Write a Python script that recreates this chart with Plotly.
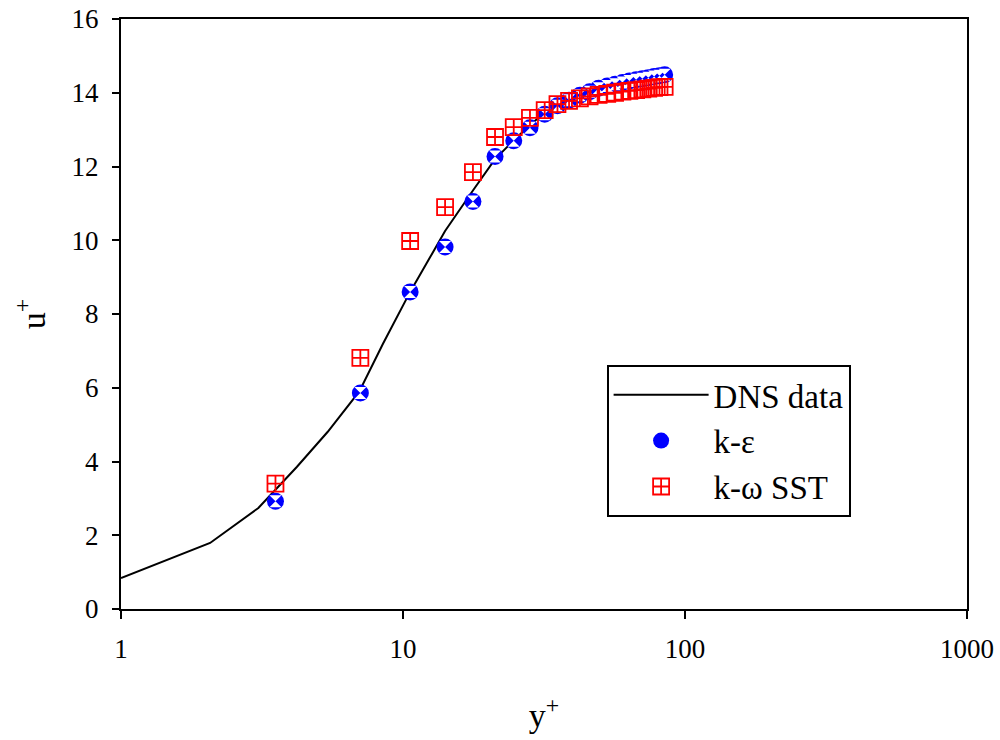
import plotly.graph_objects as go

# DNS reference profile
dns_yplus = [1.0, 2.07, 3.07, 4.2, 5.4, 7.0, 8.5, 10.6, 12.5, 14.1, 17.7, 21.2, 25.0, 30.0, 40.0, 50.0, 60.0, 70.0, 80.0]
dns_uplus = [0.84, 1.79, 2.74, 3.85, 4.80, 5.90, 7.20, 8.60, 9.55, 10.25, 11.35, 12.20, 12.75, 13.30, 13.85, 14.10, 14.25, 14.35, 14.42]

# model results (cell centres)
model_yplus = [3.53, 7.06, 10.6, 14.1, 17.7, 21.2, 24.7, 28.2, 31.8, 35.3, 38.8, 42.4,
               45.9, 49.4, 53.0, 56.5, 60.0, 63.5, 67.1, 70.6, 74.1, 77.7, 81.2, 84.7]
ke_uplus = [2.92, 5.86, 8.60, 9.82, 11.05, 12.27, 12.70, 13.05, 13.42, 13.65, 13.80, 13.93,
            14.03, 14.12, 14.18, 14.23, 14.28, 14.32, 14.35, 14.38, 14.41, 14.44, 14.46, 14.49]
sst_uplus = [3.40, 6.81, 9.98, 10.90, 11.85, 12.80, 13.07, 13.32, 13.53, 13.69, 13.78, 13.85,
             13.90, 13.94, 13.97, 14.00, 14.03, 14.05, 14.07, 14.09, 14.11, 14.13, 14.15, 14.16]

FONT = "Liberation Serif"

fig = go.Figure()
fig.add_trace(go.Scatter(x=dns_yplus, y=dns_uplus, mode="lines", name="DNS data",
                         line=dict(color="black", width=2)))
fig.add_trace(go.Scatter(x=model_yplus, y=ke_uplus, mode="markers", name="k-ε",
                         legendgroup="ke",
                         marker=dict(symbol="circle", size=17, color="#0000FF",
                                     line=dict(width=0))))
fig.add_trace(go.Scatter(x=model_yplus, y=ke_uplus, mode="markers", name="k-ε",
                         legendgroup="ke", showlegend=False, hoverinfo="skip",
                         marker=dict(symbol="hourglass", size=12, color="white",
                                     line=dict(width=0))))
fig.add_trace(go.Scatter(x=model_yplus, y=sst_uplus, mode="markers", name="k-ω SST",
                         marker=dict(symbol="square-cross-open", size=16, color="#FF0000",
                                     line=dict(width=1.8, color="#FF0000"))))

fig.update_layout(
    width=1000, height=740,
    margin=dict(l=121, r=33, t=19, b=131, autoexpand=False),
    paper_bgcolor="white", plot_bgcolor="white",
    font=dict(family=FONT, size=27, color="black"),
    showlegend=True,
    legend=dict(x=0.574, y=0.414, xanchor="left", yanchor="top",
                bgcolor="white", bordercolor="black", borderwidth=2,
                font=dict(family=FONT, size=33, color="black"),
                itemwidth=95, tracegroupgap=0, entrywidth=135),
)
fig.update_xaxes(type="log", range=[0, 3], tickvals=[1, 10, 100, 1000],
                 ticktext=["1", "10", "100", "1000"], automargin=False,
                 showline=True, linecolor="black", linewidth=2, mirror=True,
                 ticks="outside", ticklen=8, tickwidth=2, tickcolor="black",
                 ticklabelstandoff=7, showgrid=False, zeroline=False,
                 title=dict(text="y<sup>+</sup>", font=dict(family=FONT, size=34), standoff=40))
fig.update_yaxes(range=[0, 16], tickvals=[0, 2, 4, 6, 8, 10, 12, 14, 16], automargin=False,
                 showline=True, linecolor="black", linewidth=2, mirror=True,
                 ticks="outside", ticklen=7, tickwidth=2, tickcolor="black",
                 ticklabelstandoff=8, showgrid=False, zeroline=False,
                 title=dict(text="u<sup>+</sup>", font=dict(family=FONT, size=34), standoff=16))

fig.write_html("out.html")
